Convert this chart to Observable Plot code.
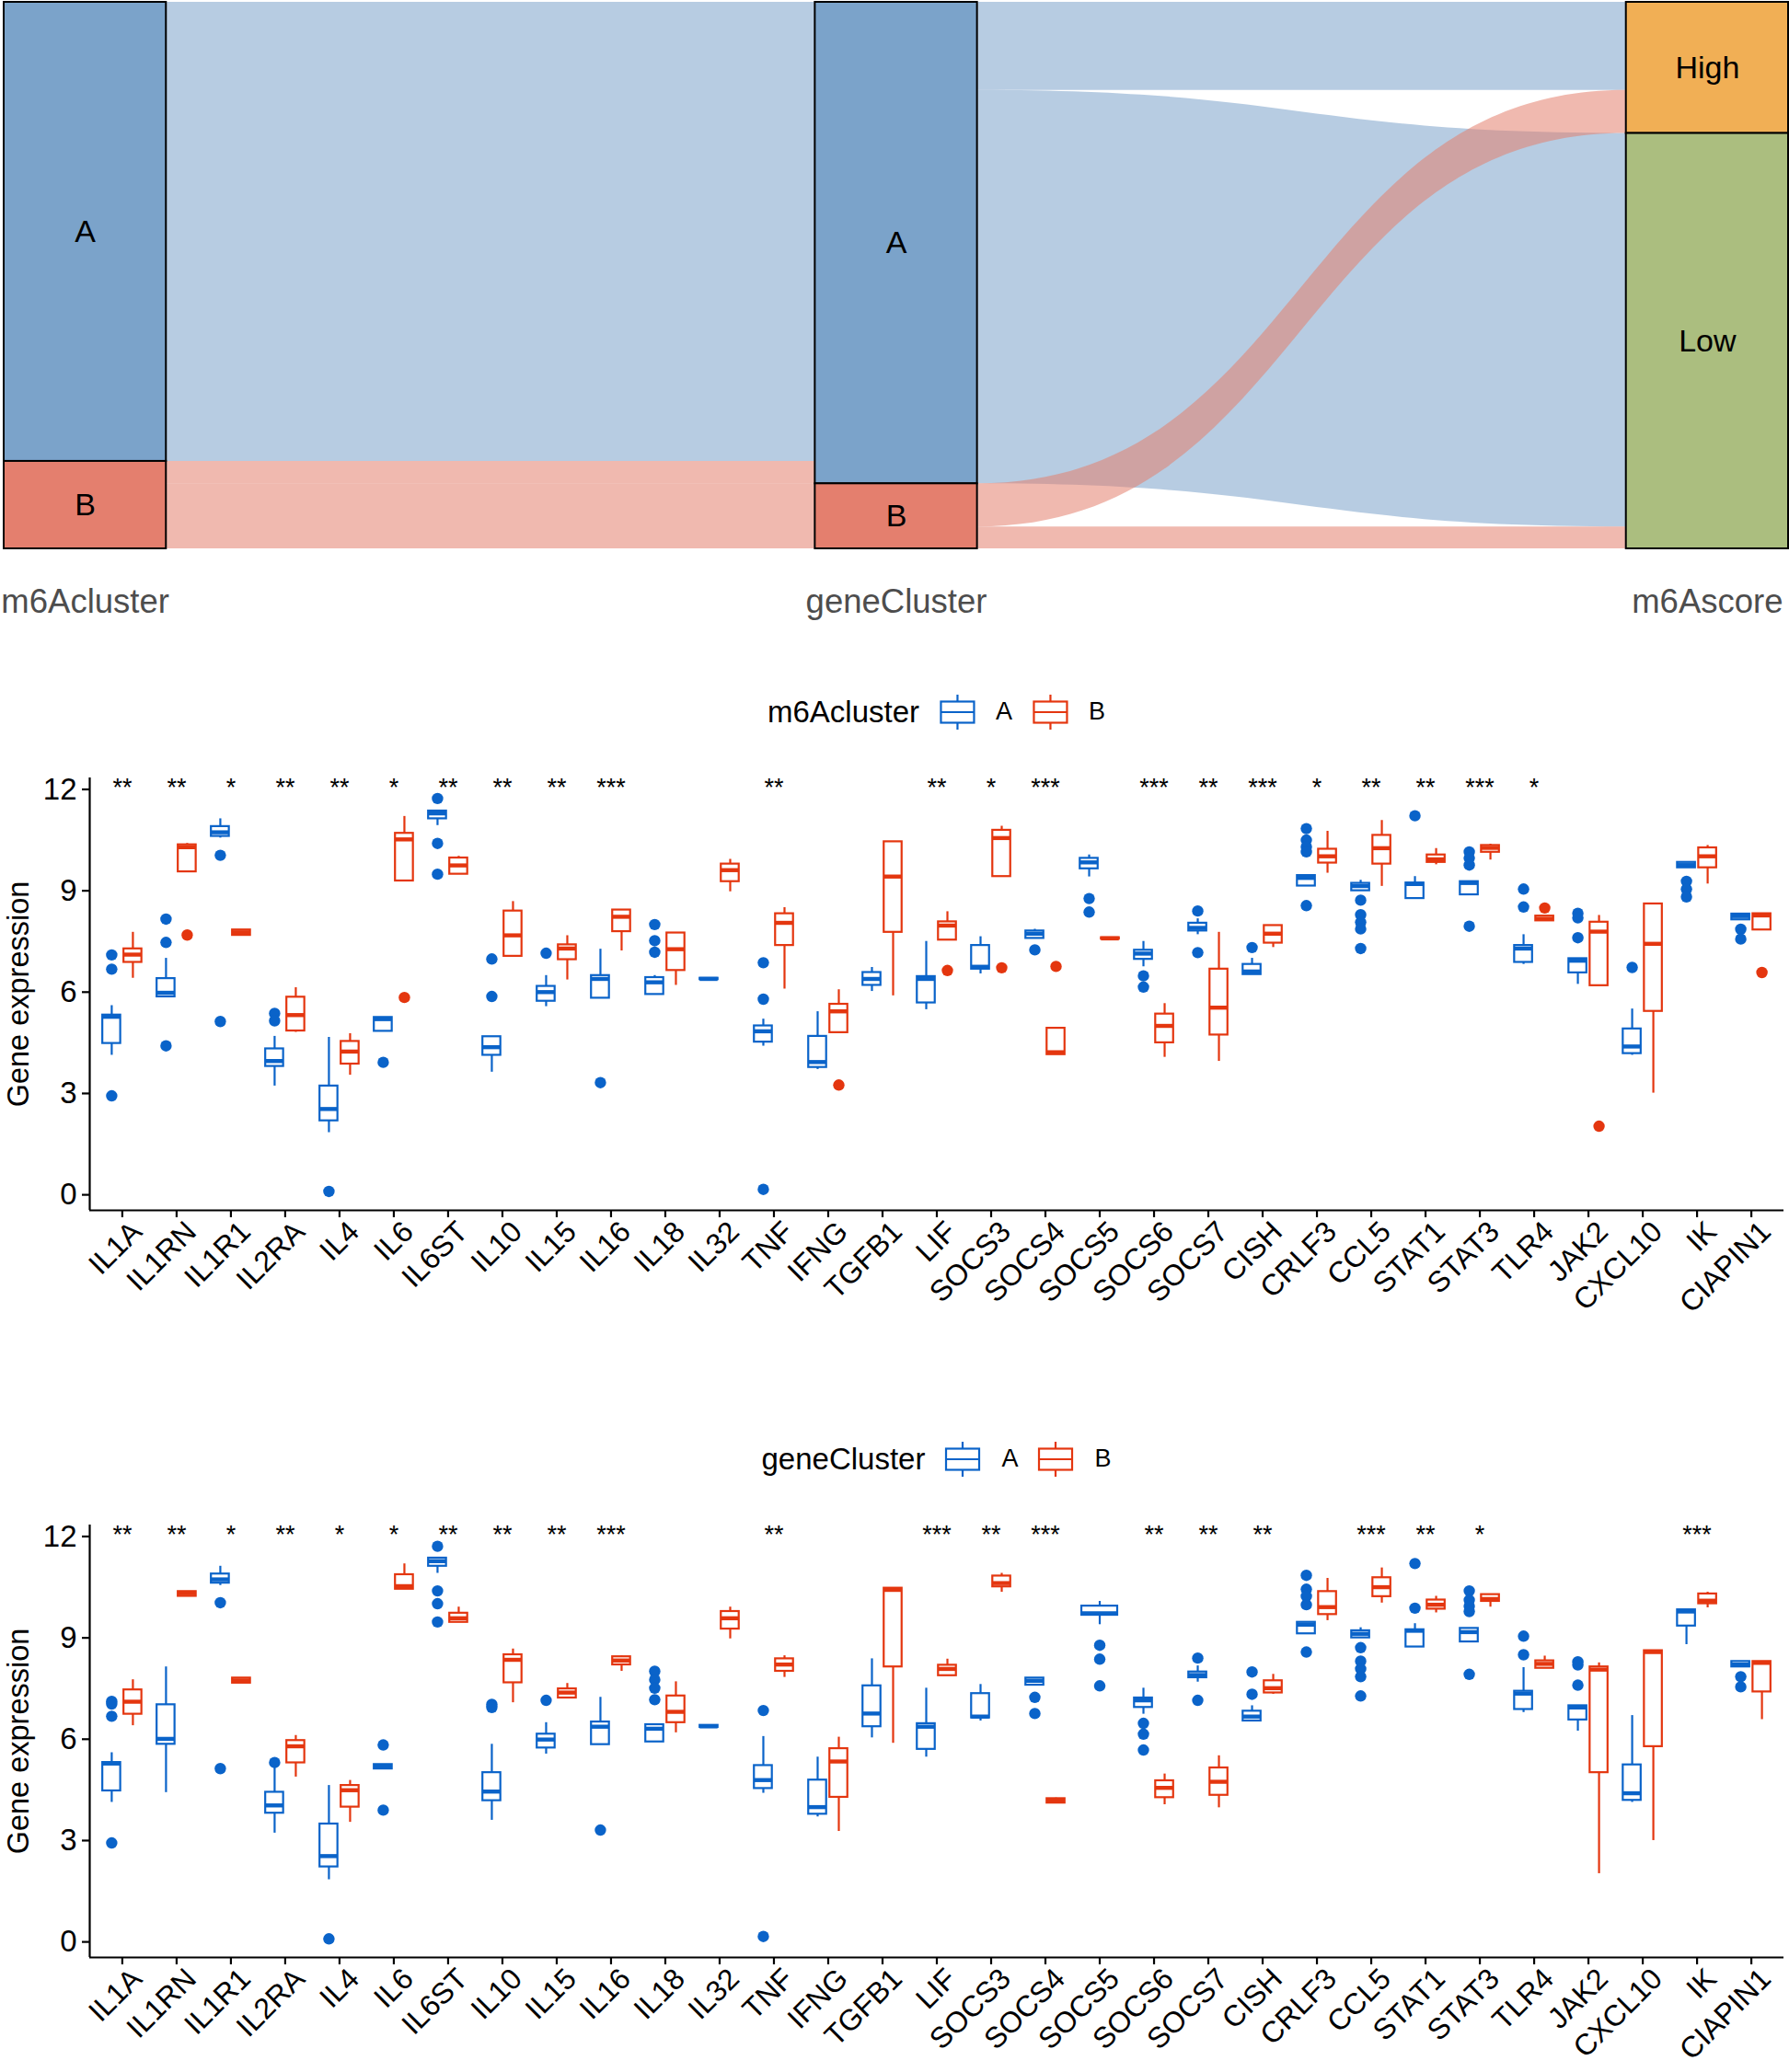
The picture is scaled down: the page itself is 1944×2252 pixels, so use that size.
<!DOCTYPE html>
<html><head><meta charset="utf-8">
<script src="https://cdn.jsdelivr.net/npm/d3@7"></script>
<script src="https://cdn.jsdelivr.net/npm/@observablehq/plot@0.6"></script>
<style>
body{margin:0;background:#fff;}
#root{position:relative;width:1944px;height:2252px;background:#fff;font-family:"Liberation Sans",Arial,sans-serif;overflow:hidden}
.legend{position:absolute;display:flex;align-items:center;transform:translate(-50%,-50%);white-space:nowrap;color:#000;line-height:1}
.legend .title{font-size:33px;margin-right:21px}
.legend .lab{font-size:27px;margin:0 21px 0 22px}
.legend .lab.last{margin-right:0}
</style></head><body><div id="root"></div>
<script>
// ---------------- DATA ----------------
const genes = ["IL1A","IL1RN","IL1R1","IL2RA","IL4","IL6","IL6ST","IL10","IL15","IL16","IL18","IL32","TNF","IFNG","TGFB1","LIF","SOCS3","SOCS4","SOCS5","SOCS6","SOCS7","CISH","CRLF3","CCL5","STAT1","STAT3","TLR4","JAK2","CXCL10","IK","CIAPIN1"];
const yTicks = [0, 3, 6, 9, 12];

// Sankey
const axisNames = ["m6Acluster", "geneCluster", "m6Ascore"];
const strataOrder = [["A", "B"], ["A", "B"], ["High", "Low"]];
const strataFill = {A: "#7BA3CA", B: "#E47F6E", High: "#F1AF55", Low: "#ABBE7F"};
const gap1From = ["A", "B", "B"], gap1To = ["A", "A", "B"], gap1Share = [0.840, 0.041, 0.119];
const gap2From = ["A", "A", "B", "B"], gap2To = ["High", "Low", "High", "Low"], gap2Share = [0.161, 0.720, 0.079, 0.040];

// Boxplot stats per gene: [lowerWhisker, Q1, median, Q3, upperWhisker]
const m6A_A = [
[4.13,4.48,5.27,5.32,5.60],[5.84,5.86,5.98,6.40,7.00],[10.56,10.61,10.73,10.90,11.13],[3.22,3.80,3.96,4.32,4.69],
[1.84,2.19,2.54,3.22,4.66],[4.84,4.84,5.20,5.25,5.25],[10.93,11.13,11.29,11.36,11.36],[3.63,4.13,4.37,4.68,4.68],
[5.57,5.73,6.00,6.17,6.49],[5.82,5.82,6.39,6.49,7.27],[5.93,5.93,6.29,6.43,6.49],[6.37,6.37,6.39,6.41,6.41],
[4.40,4.52,4.84,5.00,5.20],[3.71,3.77,3.93,4.69,5.42],[6.02,6.20,6.39,6.58,6.73],[5.48,5.68,6.39,6.46,7.50],
[6.54,6.68,6.75,7.38,7.64],[7.59,7.59,7.73,7.81,7.86],[9.41,9.65,9.84,9.96,10.06],[6.75,6.97,7.14,7.24,7.50],
[7.70,7.81,7.90,8.04,8.17],[6.52,6.52,6.61,6.82,7.00],[9.14,9.14,9.38,9.45,9.45],[9.00,9.00,9.14,9.22,9.31],
[8.77,8.77,9.20,9.23,9.42],[8.88,8.88,9.23,9.27,9.27],[6.82,6.88,7.29,7.38,7.70],[6.23,6.57,6.93,6.99,6.99],
[4.13,4.18,4.39,4.91,5.50],[9.68,9.68,9.76,9.84,9.84],[8.14,8.14,8.25,8.31,8.31]];
const m6A_A_out = [[7.10,6.68,2.93],[8.16,7.47,4.41],[10.05,5.13],[5.37,5.15],[0.10],[3.92],[11.73,10.40,9.49],[6.98,5.87],[7.15],[3.32],
[8.00,7.52,7.18],[],[6.87,5.79,0.16],[],[],[],[],[7.25],[8.77,8.37],[6.48,6.15],[8.40,7.17],[7.32],[10.84,10.50,10.30,10.15,8.56],
[8.72,8.29,8.07,7.87,7.29],[11.22],[10.15,9.97,9.76,7.95],[9.05,8.52],[8.33,8.20,7.61],[6.73],[9.28,9.05,8.82],[7.86,7.57]];
const m6A_B = [
[6.41,6.88,7.11,7.28,7.77],[9.56,9.56,10.29,10.36,10.40],[7.68,7.68,7.77,7.84,7.84],[4.81,4.85,5.32,5.85,6.13],
[3.54,3.87,4.24,4.54,4.77],[9.29,9.29,10.52,10.70,11.20],[9.49,9.49,9.75,9.97,10.02],[7.06,7.06,7.68,8.40,8.68],
[6.36,6.96,7.29,7.40,7.67],[7.22,7.79,8.23,8.43,8.43],[6.20,6.64,7.27,7.75,7.75],[8.97,9.27,9.61,9.79,9.93],
[6.09,7.38,8.05,8.32,8.50],[4.80,4.80,5.43,5.64,6.07],[5.89,7.77,9.42,10.45,10.45],[7.54,7.54,7.97,8.08,8.38],
[9.42,9.42,10.56,10.79,10.91],[4.15,4.15,4.22,4.93,4.93],[7.57,7.57,7.59,7.61,7.61],[4.07,4.50,5.00,5.35,5.66],
[3.95,4.73,5.54,6.68,7.77],[7.32,7.45,7.73,7.97,7.97],[9.52,9.82,10.02,10.23,10.76],[9.13,9.79,10.26,10.64,11.08],
[9.77,9.84,9.93,10.06,10.25],[9.91,10.14,10.27,10.34,10.38],[8.11,8.11,8.17,8.25,8.25],[6.19,6.19,7.79,8.07,8.27],
[3.01,5.43,7.43,8.61,8.61],[9.20,9.68,10.02,10.27,10.34],[7.84,7.84,8.27,8.32,8.32]];
const m6A_B_out = [[],[7.69],[],[],[],[5.84],[],[],[],[],[],[],[],[3.25],[],[6.64],[6.72],[6.76],[],[],[],[],[],[],[],[],[8.49],[2.03],[],[],[6.58]];
const m6A_stars = ["**","**","*","**","**","*","**","**","**","***","","","**","","","**","*","***","","***","**","***","*","**","**","***","*","","","",""];

const gene_A = [
[4.13,4.47,5.28,5.31,5.60],[4.42,5.85,6.01,7.02,8.14],[10.55,10.62,10.73,10.89,11.12],[3.22,3.81,4.04,4.43,5.17],
[1.84,2.22,2.54,3.49,4.63],[5.12,5.12,5.19,5.25,5.25],[10.91,11.12,11.27,11.36,11.36],[3.60,4.18,4.45,5.01,5.85],
[5.56,5.74,5.99,6.15,6.49],[5.84,5.84,6.37,6.51,7.24],[5.92,5.92,6.31,6.43,6.43],[6.35,6.35,6.38,6.41,6.41],
[4.40,4.54,4.79,5.22,6.08],[3.70,3.78,3.99,4.79,5.47],[6.04,6.37,6.76,7.58,8.38],[5.47,5.70,6.37,6.46,7.51],
[6.54,6.63,6.67,7.35,7.62],[7.60,7.60,7.73,7.81,7.81],[9.39,9.67,9.73,9.94,10.08],[6.74,6.94,7.15,7.22,7.51],
[7.69,7.82,7.90,7.99,8.17],[6.54,6.54,6.67,6.83,6.99],[9.12,9.12,9.39,9.46,9.46],[9.00,9.00,9.12,9.21,9.30],
[8.73,8.73,9.21,9.24,9.42],[8.88,8.88,9.17,9.28,9.28],[6.79,6.88,7.35,7.42,8.12],[6.24,6.57,6.94,6.99,6.99],
[4.13,4.19,4.40,5.24,6.70],[8.80,9.35,9.78,9.83,9.83],[8.14,8.14,8.21,8.30,8.30]];
const gene_A_out = [[7.12,7.04,6.68,2.93],[],[10.04,5.13],[5.31],[0.09],[5.83,3.90],[11.71,10.39,10.01,9.47],[7.03,6.94],[7.15],[3.31],
[8.01,7.76,7.51,7.17],[],[6.85,0.16],[],[],[],[],[7.24,6.76],[8.78,8.37,7.58],[6.47,6.15,5.68],[8.40,7.15],[7.99,7.33],
[10.85,10.44,10.23,9.98,8.58],[8.71,8.31,8.08,7.85,7.28],[11.20,9.88],[10.39,10.12,9.94,9.78,7.92],[9.05,8.50],[8.29,8.20,7.60],[],[],[7.85,7.55]];
const gene_B = [
[6.40,6.74,7.11,7.46,7.76],[10.23,10.23,10.32,10.37,10.37],[7.66,7.66,7.74,7.81,7.81],[4.88,5.30,5.79,5.96,6.11],
[3.54,3.99,4.49,4.63,4.78],[10.44,10.44,10.53,10.87,11.19],[9.46,9.46,9.58,9.73,9.91],[7.08,7.67,8.35,8.50,8.67],
[7.22,7.22,7.38,7.49,7.65],[8.01,8.20,8.33,8.44,8.46],[6.19,6.49,6.81,7.28,7.70],[8.97,9.26,9.58,9.78,9.91],
[7.83,8.01,8.21,8.38,8.47],[3.27,4.28,5.34,5.72,6.06],[5.88,8.14,10.42,10.47,10.47],[7.88,7.88,8.08,8.19,8.37],
[10.35,10.51,10.62,10.83,10.91],[4.11,4.11,4.18,4.24,4.26],null,[4.06,4.27,4.56,4.77,4.97],
[3.97,4.34,4.74,5.15,5.51],[7.33,7.37,7.51,7.73,7.92],[9.51,9.69,9.91,10.37,10.76],[10.03,10.22,10.50,10.78,11.07],
[9.74,9.85,9.98,10.12,10.23],[9.91,10.08,10.15,10.28,10.28],[8.10,8.10,8.23,8.32,8.46],[2.02,5.01,8.06,8.14,8.26],
[3.00,5.78,8.58,8.62,8.62],[9.89,10.01,10.10,10.30,10.35],[6.58,7.40,8.26,8.30,8.30]];
const gene_B_out = genes.map(() => []);
const gene_stars = ["**","**","*","**","*","*","**","**","**","***","","","**","","","***","**","***","","**","**","**","","***","**","*","","","","***",""];

// ---------------- STYLE ----------------
const FONT = '"Liberation Sans", Arial, Helvetica, sans-serif';
const BLUE = "#0A63C9", RED = "#E4360F";
const root = document.getElementById("root");

function place(el, top) {
  el.style.position = "absolute"; el.style.left = "0px"; el.style.top = top + "px";
  root.appendChild(el);
}

// ---------------- SANKEY ----------------
function stackSide(keys, order, other, otherOrder, vals) {
  const idx = vals.map((_, i) => i).sort((a, b) =>
    (order.indexOf(keys[a]) - order.indexOf(keys[b])) || (otherOrder.indexOf(other[a]) - otherOrder.indexOf(other[b])));
  let acc = 0; const pos = [];
  for (const i of idx) { pos[i] = [acc, acc + vals[i]]; acc += vals[i]; }
  return pos;
}
function strata(keys, order, vals, axis) {
  let acc = 0;
  return order.map(s => {
    const v = d3.sum(vals.filter((_, i) => keys[i] === s));
    const r = {axis, name: s, y1: acc, y2: acc + v};
    acc += v; return r;
  });
}
const gaps = [
  {from: gap1From, to: gap1To, share: gap1Share, a: 0},
  {from: gap2From, to: gap2To, share: gap2Share, a: 1}
];
const flowPts = [];
gaps.forEach(g => {
  const L = stackSide(g.from, strataOrder[g.a], g.to, strataOrder[g.a + 1], g.share);
  const R = stackSide(g.to, strataOrder[g.a + 1], g.from, strataOrder[g.a], g.share);
  g.share.forEach((v, i) => {
    const id = g.a + "-" + i, fill = strataFill[g.from[i]];
    flowPts.push({id, fill, x: g.a + 1.1, y1: L[i][0], y2: L[i][1]});
    flowPts.push({id, fill, x: g.a + 1.9, y1: R[i][0], y2: R[i][1]});
  });
});
const strataRows = [
  ...strata(gap1From, strataOrder[0], gap1Share, 1),
  ...strata(gap1To, strataOrder[1], gap1Share, 2),
  ...strata(gap2To, strataOrder[2], gap2Share, 3)
];

const sankey = Plot.plot({
  width: 1944, height: 700,
  marginLeft: 4, marginRight: 1, marginTop: 2, marginBottom: 104,
  style: {fontFamily: FONT, background: "transparent", overflow: "visible"},
  x: {domain: [0.9, 3.1]},
  y: {domain: [0, 1], reverse: true, axis: null},
  color: {type: "identity"},
  marks: [
    Plot.area(flowPts, {x1: "x", y1: "y1", y2: "y2", z: "id", fill: "fill", fillOpacity: 0.55, curve: "bump-x"}),
    Plot.rect(strataRows, {x1: d => d.axis - 0.1, x2: d => d.axis + 0.1, y1: "y1", y2: "y2",
      fill: d => strataFill[d.name], stroke: "black", strokeWidth: 2}),
    Plot.text(strataRows, {x: "axis", y: d => (d.y1 + d.y2) / 2, text: "name", fontSize: 34, fill: "black"}),
    Plot.axisX({ticks: [1, 2, 3], tickFormat: d => axisNames[d - 1], tickSize: 0, tickPadding: 44,
      fontSize: 36.5, fill: "#4D4D4D", label: null})
  ]
});
place(sankey, 0);

// ---------------- LEGENDS ----------------
function keySvg(color) {
  return `<svg width="40" height="40" viewBox="0 0 40 40" style="display:block">
    <line x1="20" x2="20" y1="1" y2="39" stroke="${color}" stroke-width="2.2"/>
    <rect x="2" y="8.5" width="36" height="23" fill="white" stroke="${color}" stroke-width="2.2"/>
    <line x1="2" x2="38" y1="20" y2="20" stroke="${color}" stroke-width="2.2"/></svg>`;
}
function legend(title, cx, cy) {
  const d = document.createElement("div");
  d.className = "legend";
  d.style.left = cx + "px"; d.style.top = cy + "px";
  d.innerHTML = `<span class="title">${title}</span>${keySvg(BLUE)}<span class="lab">A</span>${keySvg(RED)}<span class="lab last">B</span>`;
  root.appendChild(d);
}

// ---------------- BOXPLOTS ----------------
const X_MIN = -0.6, X_MAX = genes.length - 1 + 0.6;
const Y_MIN = -0.46, Y_MAX = 12.34;
const DODGE = 0.195, BOXW = 0.33, STAR_Y = 12.05;

function boxPanel(A, Aout, B, Bout, stars, height, marginBottom) {
  const rows = [];
  genes.forEach((g, i) => {
    const both = A[i] && B[i];
    [[A[i], Aout[i], BLUE, -1], [B[i], Bout[i], RED, 1]].forEach(([s, out, col, side]) => {
      if (!s) return;
      const off = both ? side * DODGE : 0, w = both ? BOXW : 2 * BOXW;
      rows.push({cx: i + off, x1: i + off - w / 2, x2: i + off + w / 2,
        lo: s[0], q1: s[1], med: s[2], q3: s[3], hi: s[4], out, col});
    });
  });
  const outs = rows.flatMap(r => r.out.map(v => ({cx: r.cx, v, col: r.col})));
  const starRows = stars.map((s, i) => ({i, s})).filter(d => d.s);
  return Plot.plot({
    width: 1944, height,
    marginLeft: 97, marginRight: 6, marginTop: 15, marginBottom,
    style: {fontFamily: FONT, fontSize: "32px", background: "transparent", overflow: "visible", color: "black"},
    x: {domain: [X_MIN, X_MAX]},
    y: {domain: [Y_MIN, Y_MAX]},
    color: {type: "identity"},
    marks: [
      Plot.ruleX(rows, {x: "cx", y1: "lo", y2: "hi", stroke: "col", strokeWidth: 2.2}),
      Plot.rect(rows, {x1: "x1", x2: "x2", y1: "q1", y2: "q3", fill: "white", stroke: "col", strokeWidth: 2.2}),
      Plot.ruleY(rows, {y: "med", x1: "x1", x2: "x2", stroke: "col", strokeWidth: 4.4}),
      Plot.dot(outs, {x: "cx", y: "v", r: 6.2, fill: "col", stroke: null}),
      Plot.text(starRows, {x: "i", y: () => STAR_Y, text: "s", fontSize: 27, fill: "black"}),
      Plot.ruleX([X_MIN], {stroke: "black", strokeWidth: 2.2}),
      Plot.ruleY([Y_MIN], {stroke: "black", strokeWidth: 2.2}),
      Plot.axisY({ticks: yTicks, tickSize: 8, tickPadding: 6, fontSize: 33, strokeWidth: 2.2, stroke: "black", fill: "black", label: null}),
      Plot.axisX({ticks: d3.range(genes.length), tickSize: 8, tickFormat: () => "", strokeWidth: 2.2, stroke: "black", label: null}),
      Plot.text(genes, {x: (d, i) => i, frameAnchor: "bottom", text: d => d, rotate: -45, textAnchor: "end",
        lineAnchor: "top", dy: 9, dx: 7, fontSize: 32, fill: "black"}),
      Plot.text(["Gene expression"], {frameAnchor: "left", dx: -77, rotate: -90, text: d => d,
        textAnchor: "middle", fontSize: 32.5, fill: "black"})
    ]
  });
}

legend("m6Acluster", 1017.5, 773.5);
place(boxPanel(m6A_A, m6A_A_out, m6A_B, m6A_B_out, m6A_stars, 620, 135), 830);
legend("geneCluster", 1017.5, 1585.5);
place(boxPanel(gene_A, gene_A_out, gene_B, gene_B_out, gene_stars, 610, 125), 1642);
</script></body></html>
